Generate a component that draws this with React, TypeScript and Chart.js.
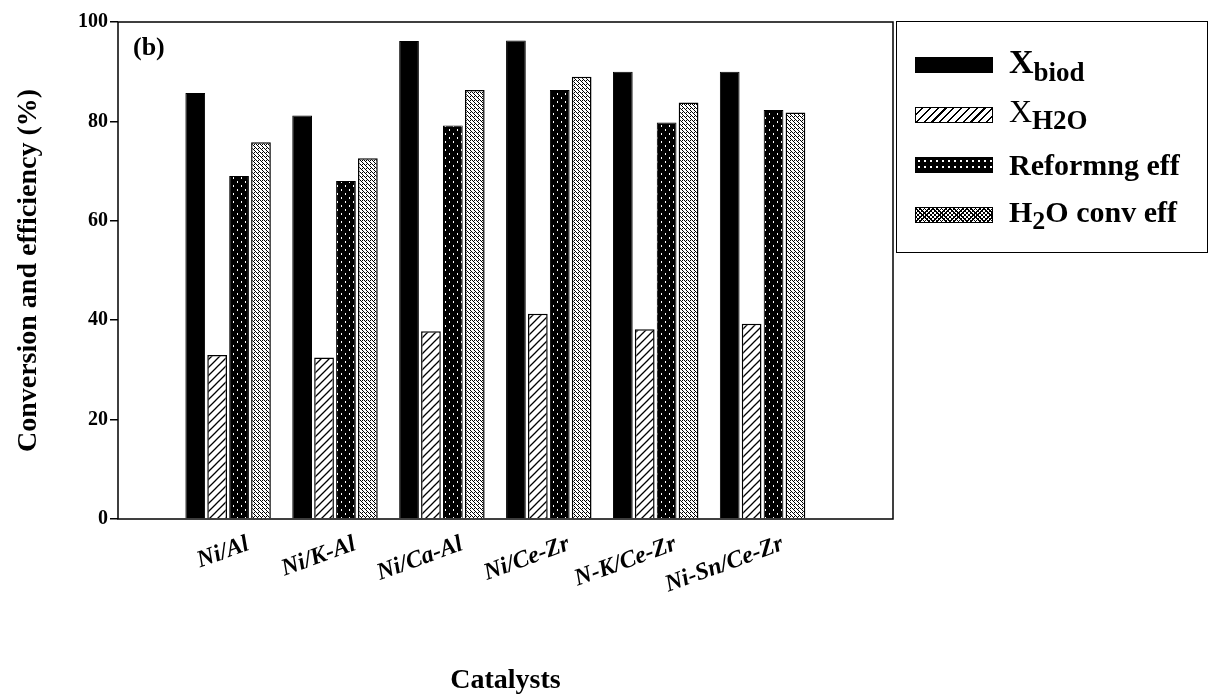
import { useEffect, useRef } from "react";
import Chart from "chart.js/auto";

const catalysts = ["Ni/Al", "Ni/K-Al", "Ni/Ca-Al", "Ni/Ce-Zr", "N-K/Ce-Zr", "Ni-Sn/Ce-Zr"];
const xBiod = [85.7, 81.2, 96.2, 96.3, 90.0, 90.0];
const xH2O = [33.0, 32.5, 37.8, 41.3, 38.2, 39.3];
const reformEff = [69.0, 68.0, 79.2, 86.3, 79.8, 82.3];
const h2oConvEff = [75.8, 72.6, 86.3, 89.0, 83.8, 81.8];
const yTicks = [0, 20, 40, 60, 80, 100];

const FONT = "'Liberation Serif', 'Times New Roman', serif";

function makePattern(kind: string): CanvasPattern | string {
  const c = document.createElement("canvas");
  const ctx = c.getContext("2d")!;
  if (kind === "hatch") {
    c.width = 8; c.height = 8;
    ctx.fillStyle = "#fff"; ctx.fillRect(0, 0, 8, 8);
    ctx.strokeStyle = "#000"; ctx.lineWidth = 1.3;
    ctx.beginPath();
    ctx.moveTo(0, 8); ctx.lineTo(8, 0);
    ctx.moveTo(-2, 2); ctx.lineTo(2, -2);
    ctx.moveTo(6, 10); ctx.lineTo(10, 6);
    ctx.stroke();
  } else if (kind === "dots") {
    c.width = 8; c.height = 8;
    ctx.fillStyle = "#000"; ctx.fillRect(0, 0, 8, 8);
    ctx.fillStyle = "#fff";
    ctx.fillRect(1, 1, 1, 2); ctx.fillRect(5, 5, 1, 2);
  } else {
    c.width = 4; c.height = 4;
    ctx.fillStyle = "#fff"; ctx.fillRect(0, 0, 4, 4);
    ctx.fillStyle = "#000";
    ctx.fillRect(0, 0, 1, 1); ctx.fillRect(2, 2, 1, 1);
    ctx.fillRect(2, 0, 1, 1); ctx.fillRect(1, 1, 1, 1); ctx.fillRect(3, 3, 1, 1);
  }
  return ctx.createPattern(c, "repeat") ?? "#888";
}

const frame = {
  id: "frame",
  afterDraw(chart: any) {
    const { ctx, chartArea: a } = chart;
    ctx.save();
    ctx.strokeStyle = "#000";
    ctx.lineWidth = 1.5;
    ctx.strokeRect(a.left, a.top, a.right - a.left, a.bottom - a.top);
    ctx.restore();
  },
};

export default function App() {
  const ref = useRef<HTMLCanvasElement | null>(null);

  useEffect(() => {
    const toPts = (v: number[]) => v.map((y, i) => ({ x: i, y }));
    const chart = new Chart(ref.current!, {
      type: "bar",
      data: {
        datasets: [
          { label: "Xbiod", data: toPts(xBiod), backgroundColor: "#000", borderColor: "#000", borderWidth: 1 },
          { label: "XH2O", data: toPts(xH2O), backgroundColor: makePattern("hatch"), borderColor: "#000", borderWidth: 1.5 },
          { label: "Reformng eff", data: toPts(reformEff), backgroundColor: makePattern("dots"), borderColor: "#000", borderWidth: 1 },
          { label: "H2O conv eff", data: toPts(h2oConvEff), backgroundColor: makePattern("cross"), borderColor: "#000", borderWidth: 1.5 },
        ],
      },
      plugins: [frame],
      options: {
        animation: false,
        responsive: false,
        categoryPercentage: 0.82,
        barPercentage: 0.9,
        layout: { padding: { left: 0, top: 22, right: 321, bottom: 0 } },
        plugins: { legend: { display: false }, tooltip: { enabled: false } },
        scales: {
          x: {
            type: "linear",
            offset: false,
            min: -1.03,
            max: 6.22,
            afterBuildTicks: (s: any) => { s.ticks = catalysts.map((_, i) => ({ value: i })); },
            afterFit: (s: any) => { s.height = 181; },
            grid: { display: false },
            border: { display: false },
            ticks: {
              callback: (v: any) => catalysts[v] ?? "",
              minRotation: 20, maxRotation: 20,
              labelOffset: 20,
              color: "#000",
              font: { family: FONT, size: 24, weight: "bold", style: "italic" },
            },
            title: {
              display: true, text: "Catalysts", color: "#000",
              font: { family: FONT, size: 28, weight: "bold" },
              padding: { top: 50, bottom: 2 },
            },
          },
          y: {
            min: 0, max: 100,
            afterBuildTicks: (s: any) => { s.ticks = yTicks.map((value) => ({ value })); },
            afterFit: (s: any) => { s.width = 118; },
            grid: { drawOnChartArea: false, drawTicks: true, tickLength: 8, color: "#000", lineWidth: 1.5 },
            border: { display: false },
            ticks: { color: "#000", padding: 2, font: { family: FONT, size: 20, weight: "bold" } },
            title: {
              display: true, text: "Conversion and efficiency (%)", color: "#000",
              font: { family: FONT, size: 28, weight: "bold" },
              padding: { top: 12, bottom: 10 },
            },
          },
        },
      },
    });
    return () => chart.destroy();
  }, []);

  const swatch = (bg: string, extra = {}) => (
    <span style={{ display: "inline-block", width: 76, height: 14, border: "1.5px solid #000", background: bg, marginRight: 16, verticalAlign: "middle", ...extra }} />
  );
  const row = { height: 50, display: "flex", alignItems: "center", fontSize: 30, fontWeight: "bold" as const };

  return (
    <div style={{ position: "fixed", left: 0, top: 0, width: 1214, height: 700, background: "#fff", fontFamily: FONT }}>
      <canvas ref={ref} width={1214} height={700} />
      <div style={{ position: "absolute", left: 133, top: 32, fontSize: 26, fontWeight: "bold" }}>(b)</div>
      <div style={{ position: "absolute", left: 896, top: 21, width: 312, height: 232, border: "1.5px solid #000", boxSizing: "border-box", padding: "18px 0 0 18px" }}>
        <div style={row}>{swatch("#000")}<span style={{ fontSize: 34 }}>X<sub style={{ fontSize: 27 }}>biod</sub></span></div>
        <div style={row}>{swatch("repeating-linear-gradient(135deg, #fff 0 4px, #000 4px 5.5px)")}<span style={{ fontWeight: "normal", fontSize: 32 }}>X<sub style={{ fontSize: 27, fontWeight: "bold" }}>H2O</sub></span></div>
        <div style={row}>{swatch("radial-gradient(#fff 0.8px, #000 1px) 0 0/6px 6px")}<span>Reformng eff</span></div>
        <div style={row}>{swatch("repeating-linear-gradient(45deg, #000 0 1px, transparent 1px 3px), repeating-linear-gradient(135deg, #000 0 1px, transparent 1px 3px) #fff")}<span>H<sub style={{ fontSize: 26 }}>2</sub>O conv eff</span></div>
      </div>
    </div>
  );
}
